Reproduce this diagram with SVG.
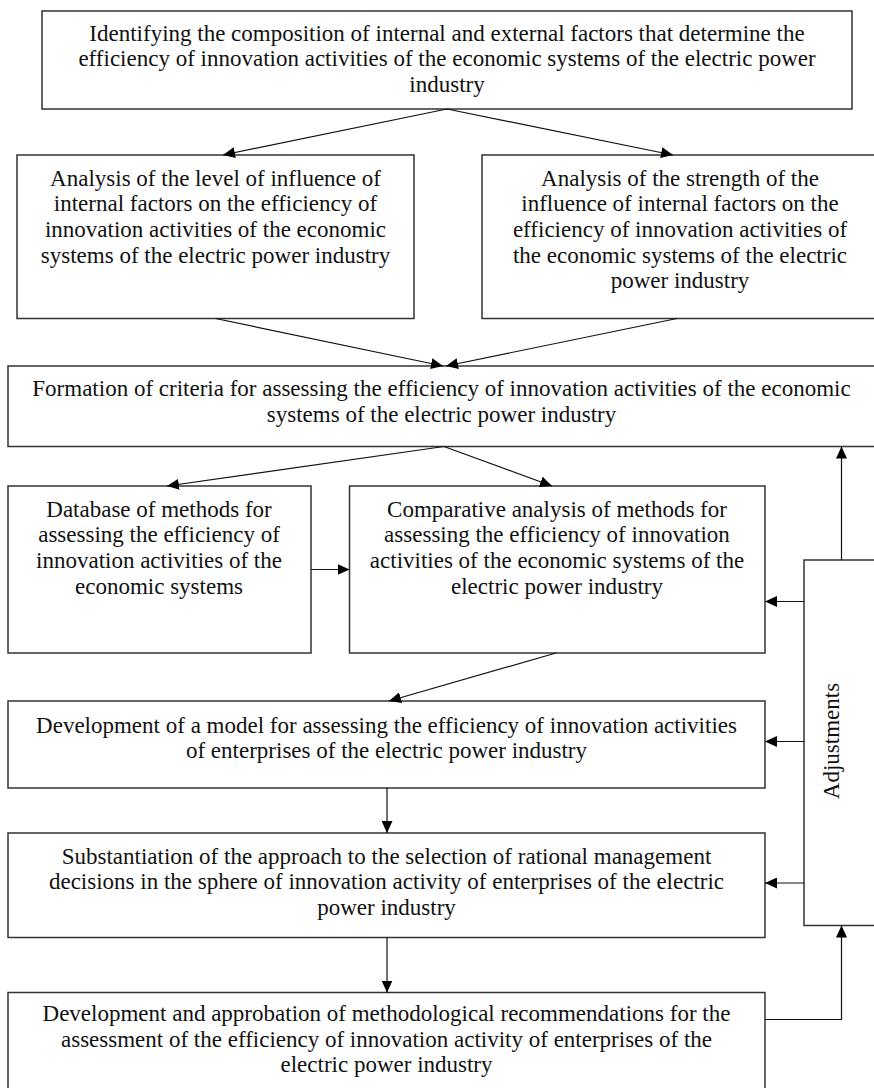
<svg xmlns="http://www.w3.org/2000/svg" width="874" height="1088" viewBox="0 0 874 1088">
<style>
.box{fill:#fff;stroke:#333;stroke-width:1.5}
.t{font-family:"Liberation Serif","Times New Roman",serif;font-size:23px;fill:#111;text-anchor:middle}
.c{fill:none;stroke:#111;stroke-width:1.2}
</style>
<defs>
<marker id="ah" markerUnits="userSpaceOnUse" markerWidth="12" markerHeight="11" refX="12" refY="5.5" orient="auto">
<path d="M0,0 L12,5.5 L0,11 z" fill="#000"/>
</marker>
</defs>
<rect width="874" height="1088" fill="#fff"/>
<g id="n1">
<rect class="box" x="42" y="11" width="810" height="98"/>
<text class="t" x="447" y="40.5">Identifying the composition of internal and external factors that determine the</text>
<text class="t" x="447" y="66">efficiency of innovation activities of the economic systems of the electric power</text>
<text class="t" x="447" y="91.5">industry</text>
</g>
<g id="n2">
<rect class="box" x="17" y="155" width="397" height="163.5"/>
<text class="t" x="215.5" y="185.5">Analysis of the level of influence of</text>
<text class="t" x="215.5" y="211.2">internal factors on the efficiency of</text>
<text class="t" x="215.5" y="236.9">innovation activities of the economic</text>
<text class="t" x="215.5" y="262.6">systems of the electric power industry</text>
</g>
<g id="n3">
<rect class="box" x="482" y="155" width="400" height="163.5"/>
<text class="t" x="680" y="185.5">Analysis of the strength of the</text>
<text class="t" x="680" y="211.2">influence of internal factors on the</text>
<text class="t" x="680" y="236.9">efficiency of innovation activities of</text>
<text class="t" x="680" y="262.6">the economic systems of the electric</text>
<text class="t" x="680" y="288.3">power industry</text>
</g>
<g id="n4">
<rect class="box" x="8" y="366" width="874" height="80.5"/>
<text class="t" x="441.5" y="396">Formation of criteria for assessing the efficiency of innovation activities of the economic</text>
<text class="t" x="441.5" y="421.5">systems of the electric power industry</text>
</g>
<g id="n5">
<rect class="box" x="8" y="486" width="303" height="167"/>
<text class="t" x="159" y="516.5">Database of methods for</text>
<text class="t" x="159" y="542.2">assessing the efficiency of</text>
<text class="t" x="159" y="567.9">innovation activities of the</text>
<text class="t" x="159" y="593.6">economic systems</text>
</g>
<g id="n6">
<rect class="box" x="349.5" y="486" width="415.5" height="167"/>
<text class="t" x="557" y="516.5">Comparative analysis of methods for</text>
<text class="t" x="557" y="542.2">assessing the efficiency of innovation</text>
<text class="t" x="557" y="567.9">activities of the economic systems of the</text>
<text class="t" x="557" y="593.6">electric power industry</text>
</g>
<g id="n7">
<rect class="box" x="8" y="701" width="757" height="87"/>
<text class="t" x="386.5" y="732.5">Development of a model for assessing the efficiency of innovation activities</text>
<text class="t" x="386.5" y="757.5">of enterprises of the electric power industry</text>
</g>
<g id="n8">
<rect class="box" x="8" y="833" width="757" height="104.5"/>
<text class="t" x="386.5" y="863.5">Substantiation of the approach to the selection of rational management</text>
<text class="t" x="386.5" y="889">decisions in the sphere of innovation activity of enterprises of the electric</text>
<text class="t" x="386.5" y="914.5">power industry</text>
</g>
<g id="n9">
<rect class="box" x="8" y="992.5" width="757" height="100"/>
<text class="t" x="386.5" y="1021">Development and approbation of methodological recommendations for the</text>
<text class="t" x="386.5" y="1046.5">assessment of the efficiency of innovation activity of enterprises of the</text>
<text class="t" x="386.5" y="1072">electric power industry</text>
</g>
<g id="n10">
<rect class="box" x="804" y="560" width="80" height="365.5"/>
<text class="t" transform="translate(838.5,741) rotate(-90)" x="0" y="0">Adjustments</text>
</g>
<g id="connectors">
<line class="c" x1="447" y1="109" x2="223" y2="155" marker-end="url(#ah)"/>
<line class="c" x1="447" y1="109" x2="673" y2="155" marker-end="url(#ah)"/>
<line class="c" x1="215.5" y1="318.5" x2="443" y2="366" marker-end="url(#ah)"/>
<line class="c" x1="677" y1="318.5" x2="446" y2="366" marker-end="url(#ah)"/>
<line class="c" x1="444" y1="446.5" x2="167" y2="486" marker-end="url(#ah)"/>
<line class="c" x1="444" y1="446.5" x2="552" y2="486" marker-end="url(#ah)"/>
<line class="c" x1="311" y1="569.5" x2="349.5" y2="569.5" marker-end="url(#ah)"/>
<line class="c" x1="556" y1="653" x2="389" y2="701" marker-end="url(#ah)"/>
<line class="c" x1="387" y1="788" x2="387" y2="833" marker-end="url(#ah)"/>
<line class="c" x1="387" y1="937.5" x2="387" y2="992.5" marker-end="url(#ah)"/>
<line class="c" x1="841.5" y1="560" x2="841.5" y2="446.5" marker-end="url(#ah)"/>
<line class="c" x1="804" y1="601.5" x2="765" y2="601.5" marker-end="url(#ah)"/>
<line class="c" x1="804" y1="741.5" x2="765" y2="741.5" marker-end="url(#ah)"/>
<line class="c" x1="804" y1="883" x2="765" y2="883" marker-end="url(#ah)"/>
<polyline class="c" points="765,1019.5 841.5,1019.5 841.5,925.5" marker-end="url(#ah)"/>
</g>
</svg>
